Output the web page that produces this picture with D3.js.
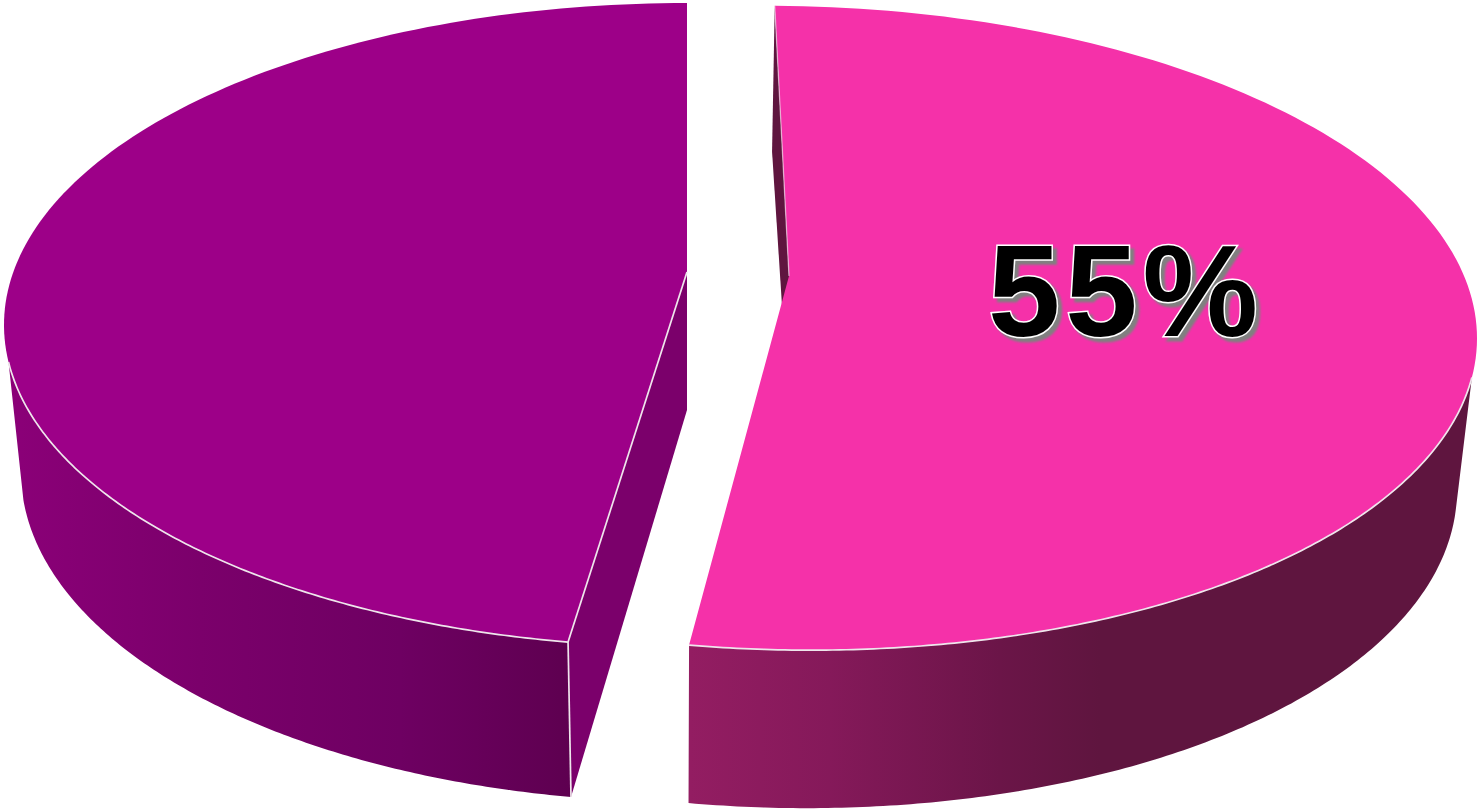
<!DOCTYPE html>
<html>
<head>
<meta charset="utf-8">
<style>
  html, body { margin: 0; padding: 0; background: #fff; overflow: hidden; }
  svg { display: block; }
  .pct { font-family: "Liberation Sans", Arial, sans-serif; font-weight: 700; }
</style>
<script src="https://cdn.jsdelivr.net/npm/d3@7"></script>
</head>
<body>
<script>
// Slice shares and the one printed label
const categories = ["Pink share", "Purple share"];
const values = [55, 45];
const labels = ["55%", ""];

const width = 1479, height = 809;

// Each exploded wedge has its own top rim, bottom rim and hub.
const wedgeLayouts = [
  {
    top: { cx: 789, cy: 328, rx: 688, ry: 322 },
    bottom: { cx: 786, cy: 480, rx: 671, ry: 328 },
    shear: 0.015, twist: -1.4, hubY: 276, hubDepth: 138,
    rimEdge: 97, bottomEdge: 93,
    topFill: "#F531A9", innerFill: "#5F153F",
    wall: [[690, "#931D62"], [830, "#85195A"], [1000, "#6B1548"], [1100, "#5F153F"]]
  },
  {
    top: { cx: 687, cy: 325, rx: 683, ry: 322 },
    bottom: { cx: 687, cy: 472, rx: 666, ry: 330 },
    shear: 0, twist: 0, hubY: 272, hubDepth: 138,
    rimEdge: -96.6, bottomEdge: -94.9,
    topFill: "#9D0088", innerFill: "#7B006B",
    wall: [[7, "#8B0078"], [200, "#7B006B"], [400, "#6E0062"], [570, "#5E0050"]]
  }
];

const foreshorten = 0.46;          // compression of pie angles along the viewing axis
const edgeColor = "#EFE6EC";
const rad = d => d * Math.PI / 180;

const svg = d3.select("body").append("svg")
  .attr("width", width).attr("height", height)
  .attr("viewBox", [0, 0, width, height]);
const defs = svg.append("defs");

const arcs = d3.pie().sort(null).value(d => d).startAngle(0).endAngle(2 * Math.PI)(values);
const line = d3.line();

// Position on a rim ellipse for ellipse parameter phi (0 = far side, clockwise).
function rimPoint(e, shear, phi) {
  const x = e.cx + e.rx * Math.sin(phi);
  const y = e.cy - e.ry * Math.cos(phi) + shear * (x - e.cx);
  return [x, y];
}

// Pie angle to rim parameter: foreshorten, then apply the perspective shift
// that moves the disc centre to the wedge hub.
function rimParam(theta, layout) {
  const a = Math.atan2(foreshorten * Math.sin(theta), Math.cos(theta)) + rad(layout.twist);
  const u = Math.sin(a), v = -Math.cos(a);
  const q0 = (layout.hubY - layout.top.cy) / layout.top.ry;
  const den = 1 + q0 * v;
  const p = u * Math.sqrt(1 - q0 * q0) / den;
  const q = (v + q0) / den;
  return Math.atan2(p, -q);
}

function sweep(from, to) {
  const n = 160;
  return d3.range(n + 1).map(i => from + (to - from) * i / n);
}

// Draw back to front: purple wedge first, pink wedge over it.
[1, 0].forEach(i => {
  const L = wedgeLayouts[i], arc = arcs[i];
  const g = svg.append("g").attr("class", "wedge").attr("data-category", categories[i]);
  const phiStart = rimParam(arc.startAngle, L);
  let phiEnd = rimParam(arc.endAngle, L);
  while (phiEnd <= phiStart) phiEnd += 2 * Math.PI;

  const top = phi => rimPoint(L.top, L.shear, phi);
  const bot = phi => rimPoint(L.bottom, L.shear, phi);
  const hub = [L.top.cx, L.hubY];
  const hubLow = [L.top.cx, L.hubY + L.hubDepth];

  const gradId = "wall" + i;
  const grad = defs.append("linearGradient").attr("id", gradId)
    .attr("gradientUnits", "userSpaceOnUse")
    .attr("x1", L.wall[0][0]).attr("x2", L.wall[L.wall.length - 1][0])
    .attr("y1", 0).attr("y2", 0);
  const span = L.wall[L.wall.length - 1][0] - L.wall[0][0];
  L.wall.forEach(s => grad.append("stop")
    .attr("offset", (s[0] - L.wall[0][0]) / span).attr("stop-color", s[1]));

  // Cut face of the wedge, running from a rim corner down to the hub
  g.append("path")
    .attr("d", line([top(phiStart), hub, hubLow, bot(phiStart)]) + "Z")
    .attr("fill", L.innerFill);

  // Outer wall between the visible part of the top rim and the bottom rim
  const rimRange = i === 0
    ? sweep(rad(L.rimEdge), phiEnd)
    : sweep(phiStart, rad(L.rimEdge));
  const botRange = i === 0
    ? sweep(phiEnd, rad(L.bottomEdge))
    : sweep(rad(L.bottomEdge), phiStart);
  g.append("path")
    .attr("d", line(rimRange.map(top).concat(botRange.map(bot))) + "Z")
    .attr("fill", `url(#${gradId})`);

  // Top surface
  g.append("path")
    .attr("d", line([hub].concat(sweep(phiStart, phiEnd).map(top))) + "Z")
    .attr("fill", L.topFill);

  // Thin light edges along the rim and the wedge corners
  const edge = (d, w, o) => g.append("path").attr("d", d).attr("fill", "none")
    .attr("stroke", edgeColor).attr("stroke-width", w).attr("stroke-opacity", o);
  edge(line(rimRange.map(top)), 1.7, 1);
  if (i === 0) {
    edge(line([top(phiStart), hub]), 1.3, 0.6);
  } else {
    edge(line([hub, top(phiStart)]), 1.7, 1);
    edge(line([top(phiStart), bot(phiStart)]), 1.7, 1);
  }
});

// Percentage label on the pink wedge
svg.append("text")
  .attr("class", "pct")
  .attr("x", 988).attr("y", 336)
  .attr("font-size", 130)
  .attr("letter-spacing", 5)
  .attr("fill", "#000")
  .attr("stroke", "#fff").attr("stroke-width", 3)
  .attr("paint-order", "stroke")
  .style("filter", "drop-shadow(4px 4px 1px #808080)")
  .text(labels[0]);
</script>
</body>
</html>
